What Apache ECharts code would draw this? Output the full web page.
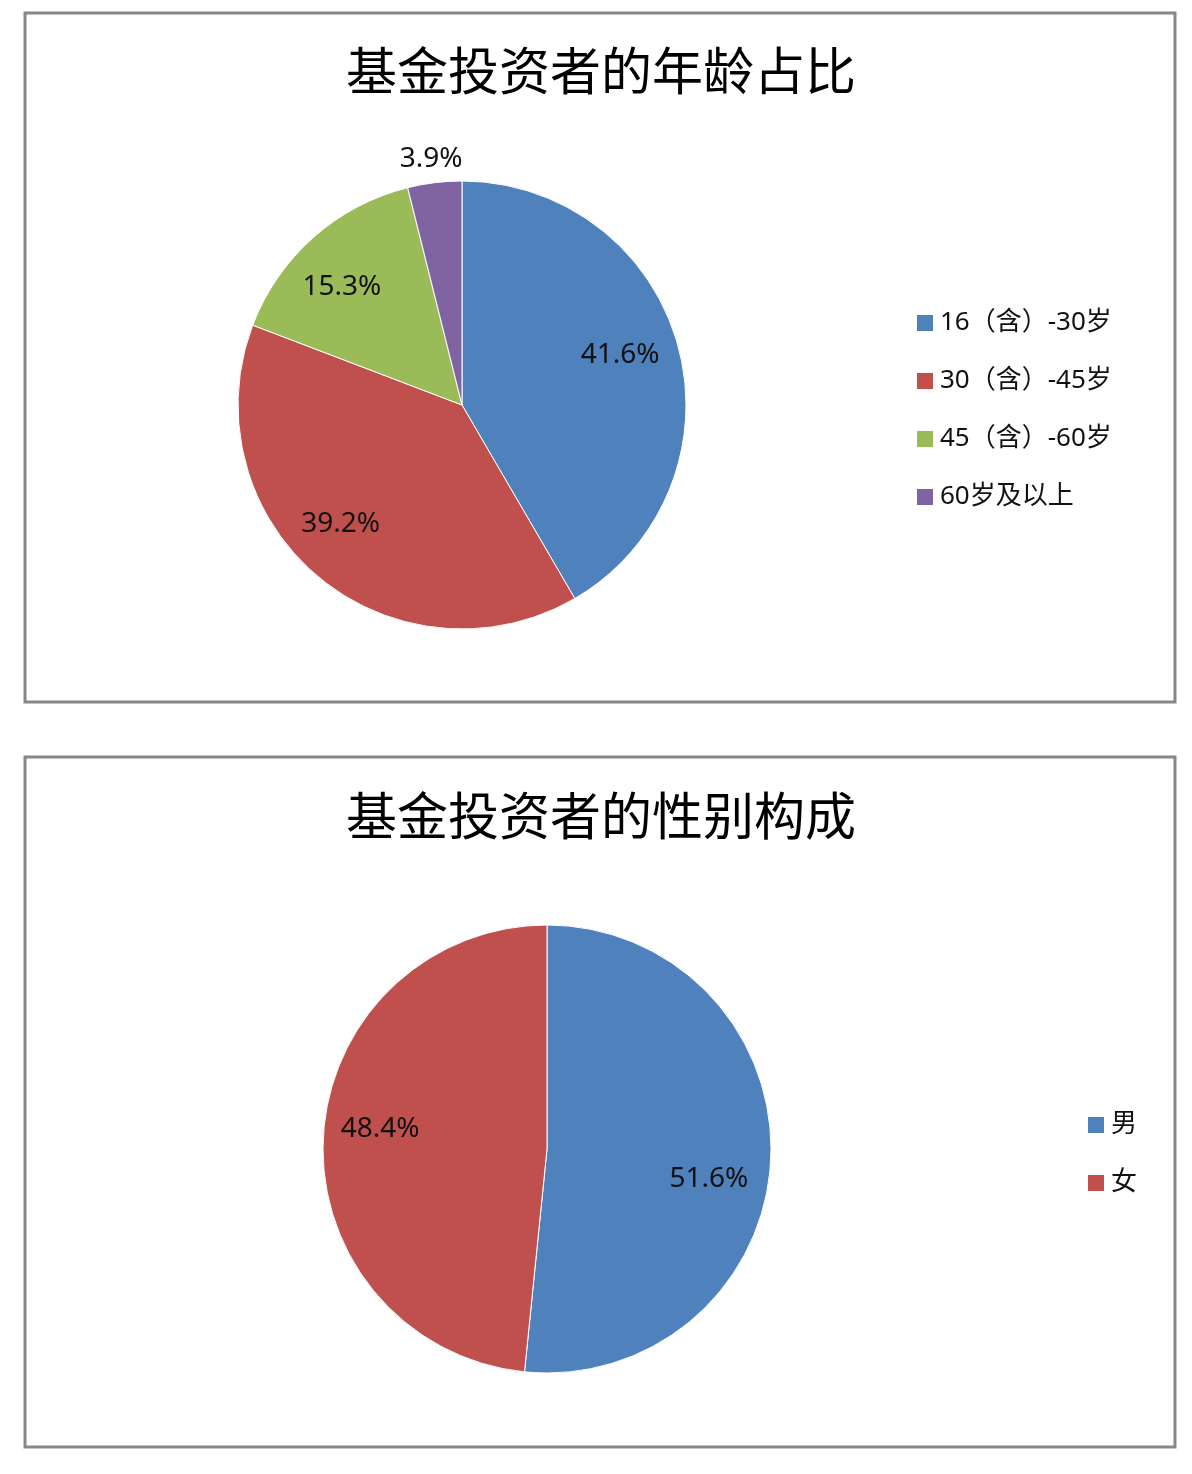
<!DOCTYPE html>
<html>
<head>
<meta charset="utf-8">
<script src="https://cdn.jsdelivr.net/npm/echarts@6/dist/echarts.min.js"></script>
<style>
html,body{margin:0;padding:0;background:#fff;}
#c{width:1192px;height:1474px;}
</style>
</head>
<body>
<div id="c"></div>
<script>
// Data
const ageTitle = '基金投资者的年龄占比';
const ageNames = ['16（含）-30岁', '30（含）-45岁', '45（含）-60岁', '60岁及以上'];
const ageValues = [41.6, 39.2, 15.3, 3.9];
const genderTitle = '基金投资者的性别构成';
const genderNames = ['男', '女'];
const genderValues = [51.6, 48.4];

const colors = ['#4F81BD', '#C0504D', '#9BBB59', '#8064A2'];
const latin = '"Noto Sans", "Noto Sans CJK SC", sans-serif';
const cjk = '"Noto Sans CJK SC", sans-serif';

const R = 224;
const c1 = [462, 405];
const c2 = [547, 1149];
// label nudges (style only)
const ageLabelOffsets = [[-5, -6], [-12, -10], [-8, 8], [0, 4]];
const genderLabelOffsets = [[-7, 22], [2, -11]];

function mkData(names, values, withColor) {
  return names.map((n, i) => ({
    name: n, value: values[i],
    itemStyle: withColor ? { color: colors[i] } : { color: 'transparent', borderWidth: 0 }
  }));
}
const fmt = p => p.value.toFixed(1) + '%';
const labelStyle = { fontFamily: latin, fontSize: 28, color: '#111' };

function mainSeries(names, values, center) {
  return {
    type: 'pie', center: center, radius: [0, R], startAngle: 90, clockwise: true,
    data: mkData(names, values, true),
    itemStyle: { borderColor: '#ffffff', borderWidth: 1 },
    label: { show: false }, labelLine: { show: false },
    emphasis: { disabled: true }, silent: true
  };
}
function overlaySeries(names, values, center, r0, r1, showIdx, offsets) {
  const d = mkData(names, values, false).map((it, i) => {
    it.label = { show: showIdx.indexOf(i) >= 0, offset: offsets[i] };
    return it;
  });
  return {
    type: 'pie', center: center, radius: [r0, r1], startAngle: 90, clockwise: true,
    data: d, silent: true, emphasis: { disabled: true },
    label: Object.assign({ position: 'inside', formatter: fmt }, labelStyle),
    labelLine: { show: false }
  };
}
function legendData(names) {
  return names.map((n, i) => ({ name: n, itemStyle: { color: colors[i], borderWidth: 0 } }));
}
const legendText = { fontFamily: latin, fontSize: 26, lineHeight: 30, color: '#111', padding: [0, 0, 0, 2] };

const chart = echarts.init(document.getElementById('c'), null, { renderer: 'canvas' });
chart.setOption({
  animation: false,
  backgroundColor: '#ffffff',
  title: [
    { text: ageTitle, left: 596, top: 40, textAlign: 'center',
      textStyle: { fontFamily: cjk, fontSize: 51, fontWeight: 'normal', color: '#000' } },
    { text: genderTitle, left: 596, top: 785, textAlign: 'center',
      textStyle: { fontFamily: cjk, fontSize: 51, fontWeight: 'normal', color: '#000' } }
  ],
  legend: [
    { orient: 'vertical', left: 912, top: 303, itemWidth: 16, itemHeight: 16, itemGap: 28,
      icon: 'rect', itemStyle: { borderWidth: 0 },
      data: legendData(ageNames), textStyle: legendText },
    { orient: 'vertical', left: 1083, top: 1105, itemWidth: 16, itemHeight: 16, itemGap: 28,
      icon: 'rect', itemStyle: { borderWidth: 0 },
      data: legendData(genderNames), textStyle: legendText }
  ],
  graphic: [
    { type: 'rect', shape: { x: 25, y: 13, width: 1150, height: 689 },
      style: { fill: 'none', stroke: '#878787', lineWidth: 3 }, silent: true, z: 100 },
    { type: 'rect', shape: { x: 25, y: 757, width: 1150, height: 690 },
      style: { fill: 'none', stroke: '#878787', lineWidth: 3 }, silent: true, z: 100 }
  ],
  series: [
    mainSeries(ageNames, ageValues, c1),
    overlaySeries(ageNames, ageValues, c1, 108, R, [0, 1, 2], ageLabelOffsets),
    overlaySeries(ageNames, ageValues, c1, 232, 266, [3], ageLabelOffsets),
    mainSeries(genderNames, genderValues, c2),
    overlaySeries(genderNames, genderValues, c2, 108, R, [0, 1], genderLabelOffsets)
  ]
});
</script>
</body>
</html>
